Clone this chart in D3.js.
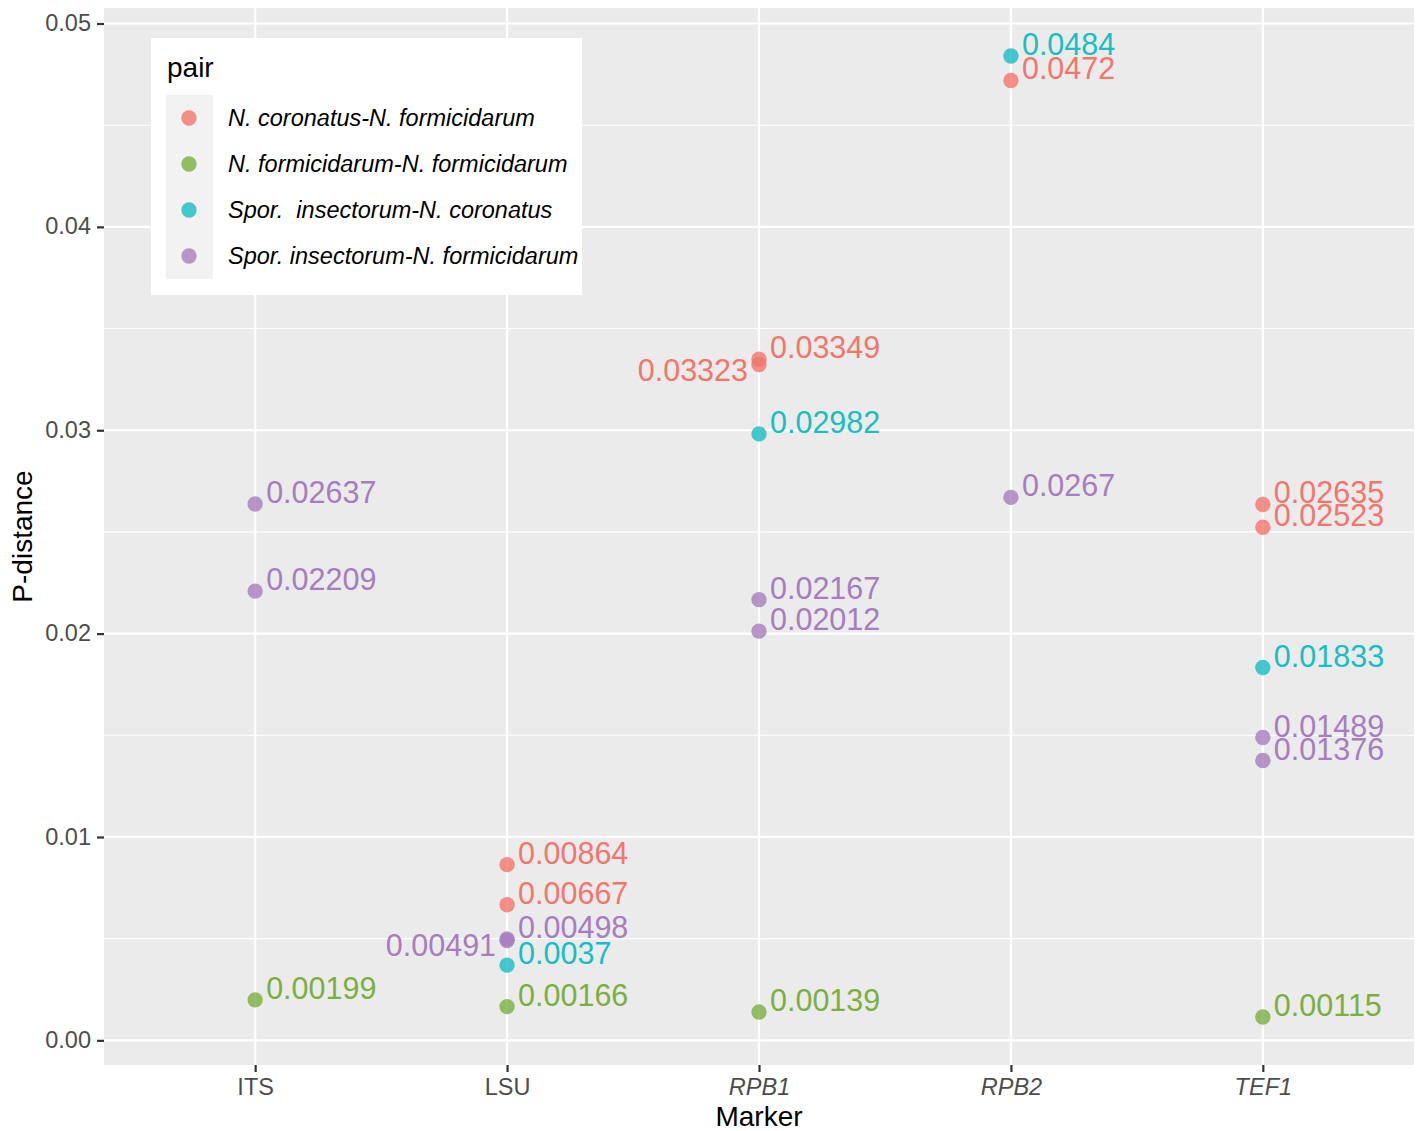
<!DOCTYPE html>
<html>
<head>
<meta charset="utf-8">
<script src="https://cdn.jsdelivr.net/npm/d3@7"></script>
<style>
  html, body { margin: 0; padding: 0; background: #fff; }
  svg { display: block; font-family: "Liberation Sans", Arial, Helvetica, sans-serif; }
</style>
</head>
<body>
<svg id="chart" width="1420" height="1131"></svg>
<script>
// Markers on the x axis (italic ones are gene names)
const markers = ["ITS", "LSU", "RPB1", "RPB2", "TEF1"];
const italicMarkers = ["RPB1", "RPB2", "TEF1"];

// Species pairs (legend order)
const pairs = [
  "N. coronatus-N. formicidarum",
  "N. formicidarum-N. formicidarum",
  "Spor.  insectorum-N. coronatus",
  "Spor. insectorum-N. formicidarum"
];
const pairColors = ["#F3756C", "#7BAF40", "#17BEC3", "#A67DBE"];

// P-distance per pair, per marker
const coronatusFormicidarum    = [[], [0.00864, 0.00667], [0.03349, 0.03323], [0.0472], [0.02635, 0.02523]];
const formicidarumFormicidarum = [[0.00199], [0.00166], [0.00139], [], [0.00115]];
const insectorumCoronatus      = [[], [0.0037], [0.02982], [0.0484], [0.01833]];
const insectorumFormicidarum   = [[0.02637, 0.02209], [0.00498, 0.00491], [0.02167, 0.02012], [0.0267], [0.01489, 0.01376]];

// Labels placed to the left of their point to avoid overlaps
const leftLabelled = [0.03323, 0.00491];

const yTicks = [0, 0.01, 0.02, 0.03, 0.04, 0.05];
const yMinorTicks = [0.005, 0.015, 0.025, 0.035, 0.045];

const seriesValues = [coronatusFormicidarum, formicidarumFormicidarum, insectorumCoronatus, insectorumFormicidarum];
const points = [];
seriesValues.forEach((series, si) => {
  series.forEach((vals, mi) => {
    vals.forEach(v => points.push({ marker: markers[mi], pair: pairs[si], value: v }));
  });
});

const svg = d3.select("#chart");
const margin = { left: 104, right: 6, top: 8, bottom: 66 };
const W = 1420, H = 1131;
const pw = W - margin.left - margin.right;
const ph = H - margin.top - margin.bottom;

const vmin = d3.min(points, d => d.value), vmax = d3.max(points, d => d.value);
const pad = (vmax - vmin) * 0.05;
const y = d3.scaleLinear().domain([vmin - pad, vmax + pad]).range([ph, 0]);
const x = d3.scalePoint().domain(markers).range([0, pw]).padding(0.6);
const color = d3.scaleOrdinal().domain(pairs).range(pairColors);

const g = svg.append("g").attr("transform", `translate(${margin.left},${margin.top})`);

// Panel background and grid
g.append("rect").attr("width", pw).attr("height", ph).attr("fill", "#EBEBEB");
g.selectAll("line.minor").data(yMinorTicks).join("line")
  .attr("x1", 0).attr("x2", pw)
  .attr("y1", d => y(d)).attr("y2", d => y(d))
  .attr("stroke", "#fff").attr("stroke-width", 1.1);
g.selectAll("line.majory").data(yTicks).join("line")
  .attr("x1", 0).attr("x2", pw)
  .attr("y1", d => y(d)).attr("y2", d => y(d))
  .attr("stroke", "#fff").attr("stroke-width", 2.2);
g.selectAll("line.majorx").data(markers).join("line")
  .attr("x1", d => x(d)).attr("x2", d => x(d))
  .attr("y1", 0).attr("y2", ph)
  .attr("stroke", "#fff").attr("stroke-width", 2.2);

// Axes
const yAxis = d3.axisLeft(y).tickValues(yTicks).tickFormat(d3.format(".2f")).tickSize(7).tickPadding(6);
const yg = g.append("g").call(yAxis);
yg.select(".domain").remove();
yg.selectAll(".tick line").attr("stroke", "#333").attr("stroke-width", 2.2);
yg.selectAll(".tick text").attr("fill", "#4D4D4D").style("font-size", "23.5px").attr("dy", "0.3em");

const xAxis = d3.axisBottom(x).tickSize(7).tickPadding(4);
const xg = g.append("g").attr("transform", `translate(0,${ph})`).call(xAxis);
xg.select(".domain").remove();
xg.selectAll(".tick line").attr("stroke", "#333").attr("stroke-width", 2.2);
xg.selectAll(".tick text").attr("fill", "#4D4D4D").style("font-size", "23.5px")
  .attr("dy", "0.82em")
  .style("font-style", d => italicMarkers.includes(d) ? "italic" : "normal");

// Axis titles
svg.append("text").attr("x", margin.left + pw / 2).attr("y", 1126)
  .attr("text-anchor", "middle").style("font-size", "28px").attr("fill", "#000").text("Marker");
svg.append("text").attr("transform", `translate(32,${margin.top + ph / 2}) rotate(-90)`)
  .attr("text-anchor", "middle").style("font-size", "28px").attr("fill", "#000").text("P-distance");

// Points
g.selectAll("circle.pt").data(points).join("circle")
  .attr("cx", d => x(d.marker)).attr("cy", d => y(d.value)).attr("r", 7.7)
  .attr("fill", d => color(d.pair)).attr("fill-opacity", 0.8);

// Value labels
g.selectAll("text.lbl").data(points).join("text")
  .attr("x", d => x(d.marker) + (leftLabelled.includes(d.value) ? -11 : 11))
  .attr("y", d => y(d.value) + (leftLabelled.includes(d.value) ? 16 : -1))
  .attr("text-anchor", d => leftLabelled.includes(d.value) ? "end" : "start")
  .style("font-size", "30.5px")
  .attr("fill", d => color(d.pair))
  .text(d => String(d.value));

// Legend
const lg = svg.append("g").attr("transform", "translate(151,38)");
lg.append("rect").attr("width", 431).attr("height", 257).attr("fill", "#fff");
lg.append("text").attr("x", 16).attr("y", 39).style("font-size", "28px").attr("fill", "#000").text("pair");
lg.append("rect").attr("x", 15).attr("y", 57).attr("width", 47).attr("height", 184).attr("fill", "#F2F2F2");
const items = lg.selectAll("g.item").data(pairs).join("g")
  .attr("transform", (d, i) => `translate(0,${80 + i * 46})`);
items.append("circle").attr("cx", 38).attr("cy", 0).attr("r", 7.7)
  .attr("fill", d => color(d)).attr("fill-opacity", 0.8);
items.append("text").attr("x", 77).attr("y", 8)
  .style("font-size", "23.5px").style("font-style", "italic").style("white-space", "pre")
  .attr("fill", "#000").text(d => d);
</script>
</body>
</html>
